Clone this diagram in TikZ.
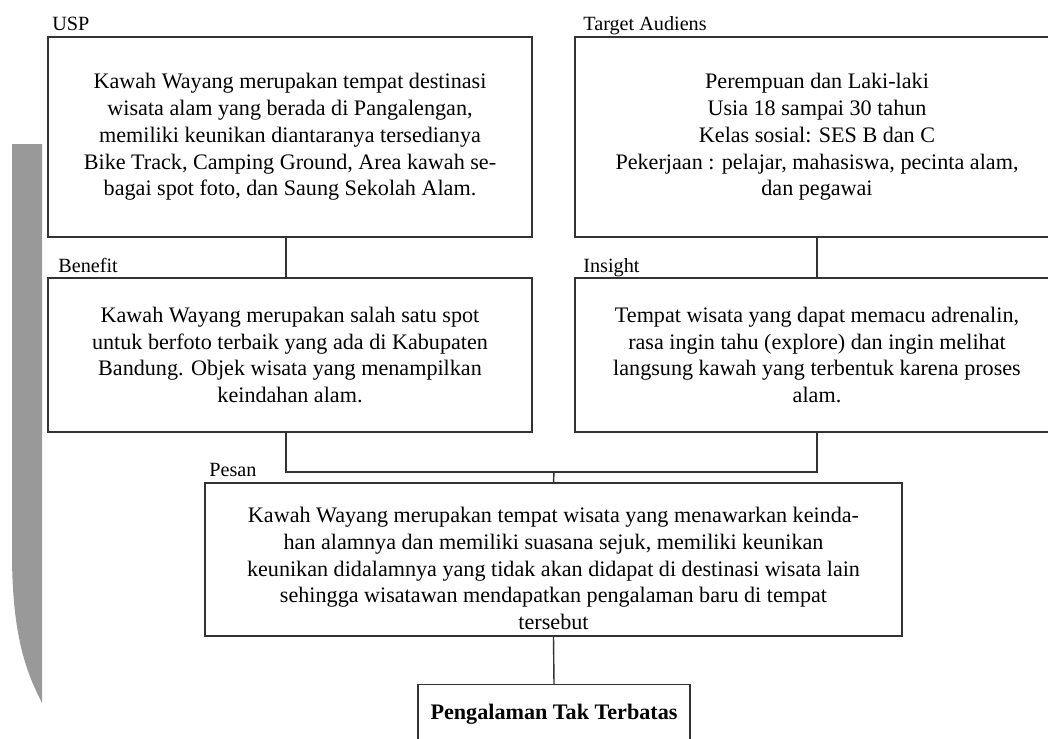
\documentclass[tikz,border=0pt]{standalone}
\usepackage{fontspec}
\setmainfont{Liberation Serif}
\usetikzlibrary{positioning}

\begin{document}
\begin{tikzpicture}[x=0.02cm,y=-0.02cm,
  box/.style={draw=black!80,line width=0.8pt,align=center,inner sep=0pt,
    font=\fontsize{12.6}{15.2}\selectfont},
  tag/.style={anchor=base west,inner sep=0pt,font=\fontsize{11.5}{13}\selectfont},
  link/.style={draw=black!80,line width=0.8pt}]
\clip (0,0) rectangle (1048,738);
\fill[black!40] (12,144) -- (42,144) -- (42,703) .. controls (28,675) and (12,640) .. (12,553) -- cycle;
\node [box,minimum width=9.68cm,minimum height=4cm] (usp) at (290,137) {Kawah Wayang merupakan tempat destinasi\\
  wisata alam yang berada di Pangalengan,\\
  memiliki keunikan diantaranya tersedianya\\
  Bike Track, Camping Ground, Area kawah se-\\
  bagai spot foto, dan Saung Sekolah Alam.};
\node [box,minimum width=9.68cm,minimum height=4cm] (aud) at (817,137) {Perempuan dan Laki-laki\\
  Usia 18 sampai 30 tahun\\
  Kelas sosial: SES B dan C\\
  Pekerjaan : pelajar, mahasiswa, pecinta alam,\\
  dan pegawai};
\node [box,minimum width=9.68cm,minimum height=3.08cm] (ben) at (290,355) {Kawah Wayang merupakan salah satu spot\\
  untuk berfoto terbaik yang ada di Kabupaten\\
  Bandung. Objek wisata yang menampilkan\\
  keindahan alam.};
\node [box,minimum width=9.68cm,minimum height=3.08cm] (ins) at (817,355) {Tempat wisata yang dapat memacu adrenalin,\\
  rasa ingin tahu (explore) dan ingin melihat\\
  langsung kawah yang terbentuk karena proses\\
  alam.};
\node [box,minimum width=13.94cm,minimum height=3.06cm] (pesan) at (553.5,559.5) {\rule{0pt}{19pt}Kawah Wayang merupakan tempat wisata yang menawarkan keinda-\\
  han alamnya dan memiliki suasana sejuk, memiliki keunikan\\
  keunikan didalamnya yang tidak akan didapat di destinasi wisata lain\\
  sehingga wisatawan mendapatkan pengalaman baru di tempat\\
  tersebut};
\node [box,anchor=north,minimum width=5.44cm,inner ysep=0.2cm,text height=0.5cm,text depth=0.8cm,
  font=\fontsize{12.6}{15.2}\selectfont\bfseries] (final) at (554,684) {Pengalaman Tak Terbatas};

\node [tag] (uspTag) at (52,30) {USP};
\node [tag] (audTag) at (583,30) {Target Audiens};
\node [tag] (benTag) at (58,272) {Benefit};
\node [tag] (insTag) at (583,272) {Insight};
\node [tag] (pesanTag) at (209,476) {Pesan};

\coordinate (jn) at (554,472);
\draw [link] (usp.south -| 286,0) -- (ben.north -| 286,0);
\draw [link] (aud) -- (ins);
\draw [link] (ben.south -| 286,0) -- (286,0 |- jn) -- (ins.south |- jn) -- (ins.south);
\draw [link] (jn) -- (pesan.north);
\draw [link] (pesan.south) -- (final.north);
\end{tikzpicture}
\end{document}
